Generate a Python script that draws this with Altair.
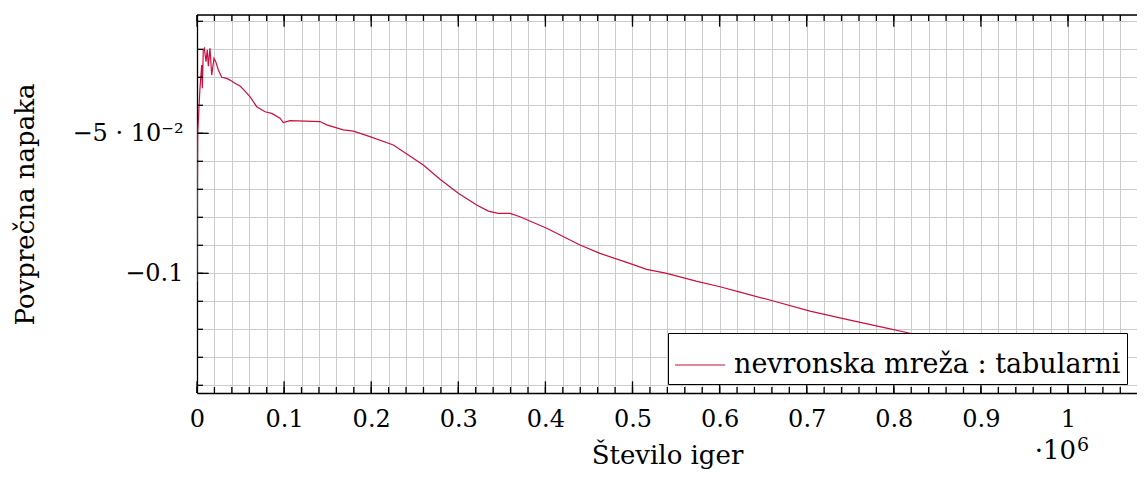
import altair as alt
import pandas as pd

# ---------------- data ----------------
iterations = [0, 800, 2300, 3400, 5400, 6100, 7200, 8400, 10300, 11800, 13000, 14900,
              16900, 19500, 21500, 24500, 28400, 34100, 37900, 43600, 49400, 53200,
              60800, 68500, 78100, 85800, 95300, 99100, 106800, 141200, 148900, 168000,
              179500, 198600, 225400, 259800, 279000, 300000, 321100, 334500, 345900,
              359400, 370800, 401500, 439700, 462700, 493300, 516300, 539300, 573000,
              600500, 623400, 661700, 703800, 749700, 791800, 818600, 900000, 1000000]
errors = [-0.103, -0.050, -0.0405, -0.034, -0.0256, -0.0339, -0.0202, -0.0196, -0.0244,
          -0.0202, -0.0260, -0.0196, -0.0292, -0.0232, -0.0244, -0.0274, -0.0300, -0.0304,
          -0.0310, -0.0321, -0.0331, -0.0343, -0.0369, -0.0405, -0.0423, -0.0429, -0.0446,
          -0.0462, -0.0455, -0.0458, -0.0470, -0.0488, -0.0492, -0.0512, -0.0542, -0.0613,
          -0.0664, -0.0714, -0.0756, -0.0778, -0.0786, -0.0786, -0.0798, -0.0839, -0.0899,
          -0.0929, -0.0961, -0.0986, -0.1000, -0.1028, -0.1048, -0.1067, -0.1099, -0.1135,
          -0.1167, -0.1196, -0.1214, -0.1270, -0.1336]
series_name = "nevronska mreža : tabularni"

x_major_values = [0, 100000, 200000, 300000, 400000, 500000, 600000, 700000, 800000,
                  900000, 1000000]
x_major_labels = ["0", "0.1", "0.2", "0.3", "0.4", "0.5", "0.6", "0.7", "0.8", "0.9", "1"]
x_minor_values = list(range(0, 1060001, 20000))

y_major_values = [-0.05, -0.1]
y_major_labels = ["−5 · 10⁻²", "−0.1"]
y_minor_values = [-0.01, -0.02, -0.03, -0.04, -0.05, -0.06, -0.07, -0.08, -0.09, -0.1,
                  -0.11, -0.12, -0.13, -0.14]

x_title = "Število iger"
y_title = "Povprečna napaka"
x_scale_note = ["·10", "6"]

# ---------------- layout ----------------
W, H = 940, 378
FONT = "DejaVu Serif"
LINE_COLOR = "#c8103f"
GRID = "#cccccc"
xs = alt.Scale(domain=[0, 1079220], nice=False, zero=False)
ys = alt.Scale(domain=[-0.14275, -0.00775], nice=False, zero=False)


def label_expr(values, labels):
    parts = [f"datum.value == {v} ? '{l}'" for v, l in zip(values, labels)]
    return " : ".join(parts) + " : ''"


x_axis = alt.Axis(values=x_minor_values, grid=True, gridColor=GRID, gridWidth=1,
                  ticks=False, tickSize=0, domain=True, domainColor="black",
                  domainWidth=1.3,
                  labelExpr=label_expr(x_major_values, x_major_labels),
                  labelFont=FONT, labelFontSize=24, labelColor="black",
                  labelBaseline="alphabetic", labelPadding=33,
                  labelFlush=False, labelOverlap=False,
                  title=x_title, titleFont=FONT, titleFontSize=26,
                  titleFontWeight="normal", titleColor="black",
                  titleBaseline="alphabetic", titleY=70)
y_axis = alt.Axis(values=y_minor_values, grid=True, gridColor=GRID, gridWidth=1,
                  ticks=False, tickSize=0, domain=True, domainColor="black",
                  domainWidth=1.3,
                  labelExpr=label_expr(y_major_values, y_major_labels),
                  labelFont=FONT, labelFontSize=24, labelColor="black",
                  labelBaseline="middle", labelPadding=14,
                  labelFlush=False, labelOverlap=False,
                  title=y_title, titleFont=FONT, titleFontSize=26,
                  titleFontWeight="normal", titleColor="black",
                  titleBaseline="alphabetic", titleAngle=-90,
                  titleX=-164, titleY=H / 2, titleAlign="center")

df = pd.DataFrame({"it": iterations, "err": errors, "series": [series_name] * len(errors)})

line = alt.Chart(df).mark_line(strokeWidth=1.2, clip=True).encode(
    x=alt.X("it:Q", scale=xs, axis=x_axis),
    y=alt.Y("err:Q", scale=ys, axis=y_axis),
    color=alt.Color("series:N",
                    scale=alt.Scale(domain=[series_name], range=[LINE_COLOR]),
                    legend=alt.Legend(orient="none", legendX=471, legendY=318, title=None,
                                      symbolType="stroke", symbolSize=2500,
                                      symbolStrokeWidth=1.2, labelFont=FONT,
                                      labelFontSize=27, labelColor="black",
                                      labelOffset=8, strokeColor="black",
                                      fillColor="white", padding=6,
                                      cornerRadius=0, labelLimit=1000)),
)


def tick_layer(values, channel, length, at_start):
    d = pd.DataFrame({"it": values} if channel == "x" else {"err": values})
    base = alt.Chart(d).mark_rule(color="black", strokeWidth=1.3)
    if channel == "x":
        y0 = 0 if at_start else H
        y1 = length if at_start else H - length
        return base.encode(x=alt.X("it:Q", scale=xs, axis=x_axis),
                           y=alt.value(y0), y2=alt.value(y1))
    return base.encode(y=alt.Y("err:Q", scale=ys, axis=y_axis),
                       x=alt.value(0), x2=alt.value(length))


ticks = [
    tick_layer(x_minor_values, "x", 6, False),
    tick_layer(x_major_values, "x", 11.7, False),
    tick_layer(x_minor_values, "x", 6, True),
    tick_layer(x_major_values, "x", 11.7, True),
    tick_layer(y_minor_values, "y", 6, True),
    tick_layer(y_major_values, "y", 11.7, True),
]

# top frame line of the axis box
top_frame = alt.Chart(pd.DataFrame({"k": [0]})).mark_rule(
    color="black", strokeWidth=1.3
).encode(x=alt.value(0), x2=alt.value(W), y=alt.value(0))

note_main = alt.Chart(pd.DataFrame({"t": [x_scale_note[0]]})).mark_text(
    font=FONT, fontSize=26, align="right", baseline="alphabetic", color="black"
).encode(text="t:N", x=alt.value(879), y=alt.value(444))
note_sup = alt.Chart(pd.DataFrame({"t": [x_scale_note[1]]})).mark_text(
    font=FONT, fontSize=19, align="left", baseline="alphabetic", color="black"
).encode(text="t:N", x=alt.value(880), y=alt.value(436))

chart = alt.layer(line, *ticks, top_frame, note_main, note_sup).properties(
    width=W, height=H,
    autosize=alt.AutoSizeParams(type="none"),
    padding={"left": 189, "top": 7, "right": 0, "bottom": 78},
).configure_view(stroke=None).configure(background="white")

chart.save("out.html", embed_options={"renderer": "svg", "actions": False})
